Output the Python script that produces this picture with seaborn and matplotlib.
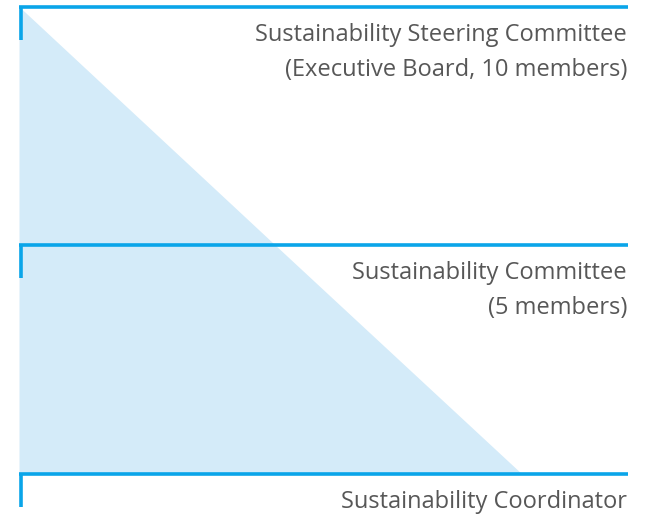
import numpy as np
import pandas as pd
import matplotlib.pyplot as plt
import seaborn as sns

# org levels, top to bottom
levels = ["Sustainability Steering Committee", "Sustainability Committee", "Sustainability Coordinator"]
details = ["(Executive Board, 10 members)", "(5 members)", ""]
tier = [0, 1.02, 2]
# width of the shaded wedge at each level (share of the line length)
coverage = [0.0, 0.42, 0.825]

df = pd.DataFrame({"level": levels, "detail": details, "tier": tier, "coverage": coverage})

sns.set_theme(style="white")
plt.rcParams['font.family'] = ['Open Sans', 'DejaVu Sans']

line_col = "#0aa5e9"
fill_col = "#d4ebf9"
text_col = "#575757"

fig = plt.figure(figsize=(6.58, 5.14), dpi=100)
ax = fig.add_axes([0, 0, 1, 1])

# axis limits so that x 0..1 = pixel 19..628 and tier 0..2 = pixel 6.5..473.5
px_x = 609
px_y = 233.5
ax.set_xlim(-19 / px_x, 1 + 30 / px_x)
ax.set_ylim(2 + (514 - 473.5) / px_y, -6.5 / px_y)

ax.fill_betweenx(df["tier"], 0, df["coverage"], color=fill_col, lw=0, zorder=1)

tick_len = 33 / px_y
for _, row in df.iterrows():
    ax.plot([0, 1], [row["tier"], row["tier"]], color=line_col, lw=2.6, solid_capstyle="butt", zorder=2)
    ax.plot([0.003, 0.003], [row["tier"], row["tier"] + tick_len], color=line_col, lw=2.6,
            solid_capstyle="butt", zorder=2)
    ax.annotate(row["level"], xy=(1, row["tier"]), xytext=(-1, -34), textcoords="offset pixels",
                ha="right", va="baseline", fontsize=17, color=text_col)
    if row["detail"]:
        ax.annotate(row["detail"], xy=(1, row["tier"]), xytext=(-1, -69), textcoords="offset pixels",
                    ha="right", va="baseline", fontsize=17, color=text_col)

ax.axis("off")
fig.savefig("out.png", dpi=100)
